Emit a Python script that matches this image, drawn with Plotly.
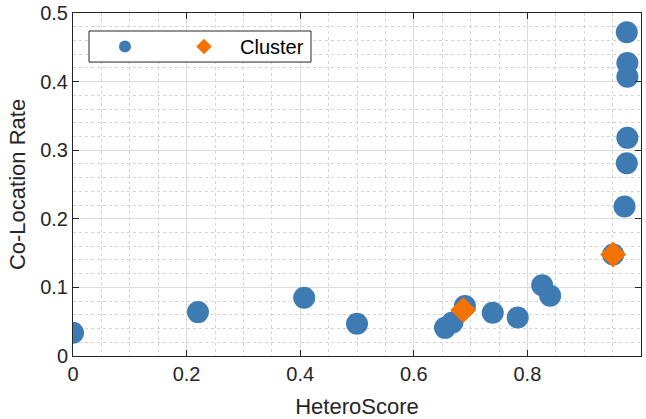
import plotly.graph_objects as go

# data
blue_x = [0.0, 0.22, 0.407, 0.50, 0.655, 0.668, 0.690, 0.739, 0.783, 0.826, 0.840, 0.951,
          0.975, 0.976, 0.976, 0.976, 0.975, 0.971]
blue_y = [0.034, 0.064, 0.085, 0.047, 0.041, 0.049, 0.073, 0.063, 0.056, 0.103, 0.088, 0.148,
          0.472, 0.427, 0.407, 0.318, 0.281, 0.218]
cluster_x = [0.687, 0.951]
cluster_y = [0.067, 0.148]
x_ticks = [0, 0.2, 0.4, 0.6, 0.8, 1]
x_labels = ["0", "0.2", "0.4", "0.6", "0.8", "1"]
y_ticks = [0, 0.1, 0.2, 0.3, 0.4, 0.5]
y_labels = ["0", "0.1", "0.2", "0.3", "0.4", "0.5"]

blue = "#3E7BB3"
orange = "#F27300"
dark = "#262626"
FONT = "Liberation Sans, Arial, sans-serif"

fig = go.Figure()
fig.add_trace(go.Scatter(x=blue_x, y=blue_y, mode="markers", name="", legend="legend",
                         marker=dict(color=blue, size=22, line=dict(width=0))))
fig.add_trace(go.Scatter(x=cluster_x, y=cluster_y, mode="markers", name="Cluster", legend="legend2",
                         marker=dict(color=orange, size=20, symbol="diamond", line=dict(width=0))))

axis_common = dict(
    showline=True, linecolor=dark, linewidth=1, mirror="ticks",
    ticks="inside", ticklen=6, tickcolor=dark,
    showgrid=True, gridcolor="#DCDCDC", gridwidth=1,
    zeroline=False,
    tickfont=dict(family=FONT, size=20, color=dark),
)

fig.update_xaxes(range=[0, 1], tickvals=x_ticks, ticktext=x_labels,
                 title=dict(text="HeteroScore", font=dict(family=FONT, size=22, color=dark), standoff=15),
                 minor=dict(dtick=0.05, showgrid=True, gridcolor="#D4D4D4", griddash="dot", gridwidth=1, ticks=""),
                 **axis_common)
fig.update_yaxes(range=[0, 0.5], tickvals=y_ticks, ticktext=y_labels,
                 title=dict(text="Co-Location Rate", font=dict(family=FONT, size=22, color=dark), standoff=8),
                 minor=dict(dtick=0.02, showgrid=True, gridcolor="#D4D4D4", griddash="dot", gridwidth=1, ticks=""),
                 **axis_common)

# legend box (drawn as a layout shape so the legend entries can sit inside it)
fig.add_shape(type="rect", xref="paper", yref="paper",
              x0=0.0282, x1=0.419, y0=0.857, y1=0.9475,
              fillcolor="white", line=dict(color=dark, width=1), layer="above")

legend_common = dict(orientation="h", y=0.9023, xanchor="left", yanchor="middle",
                     bgcolor="rgba(0,0,0,0)", borderwidth=0,
                     font=dict(family=FONT, size=20, color="black"),
                     itemsizing="constant")

fig.update_layout(
    width=646, height=419,
    margin=dict(l=73, r=5, t=13, b=63, autoexpand=False),
    paper_bgcolor="white", plot_bgcolor="white",
    font=dict(family=FONT, color=dark),
    legend=dict(x=0.0563, **legend_common),
    legend2=dict(x=0.1673, itemwidth=62, **legend_common),
    showlegend=True,
)

fig.write_html("out.html", post_script="document.body.style.margin='0';",
               config={"displayModeBar": False})
